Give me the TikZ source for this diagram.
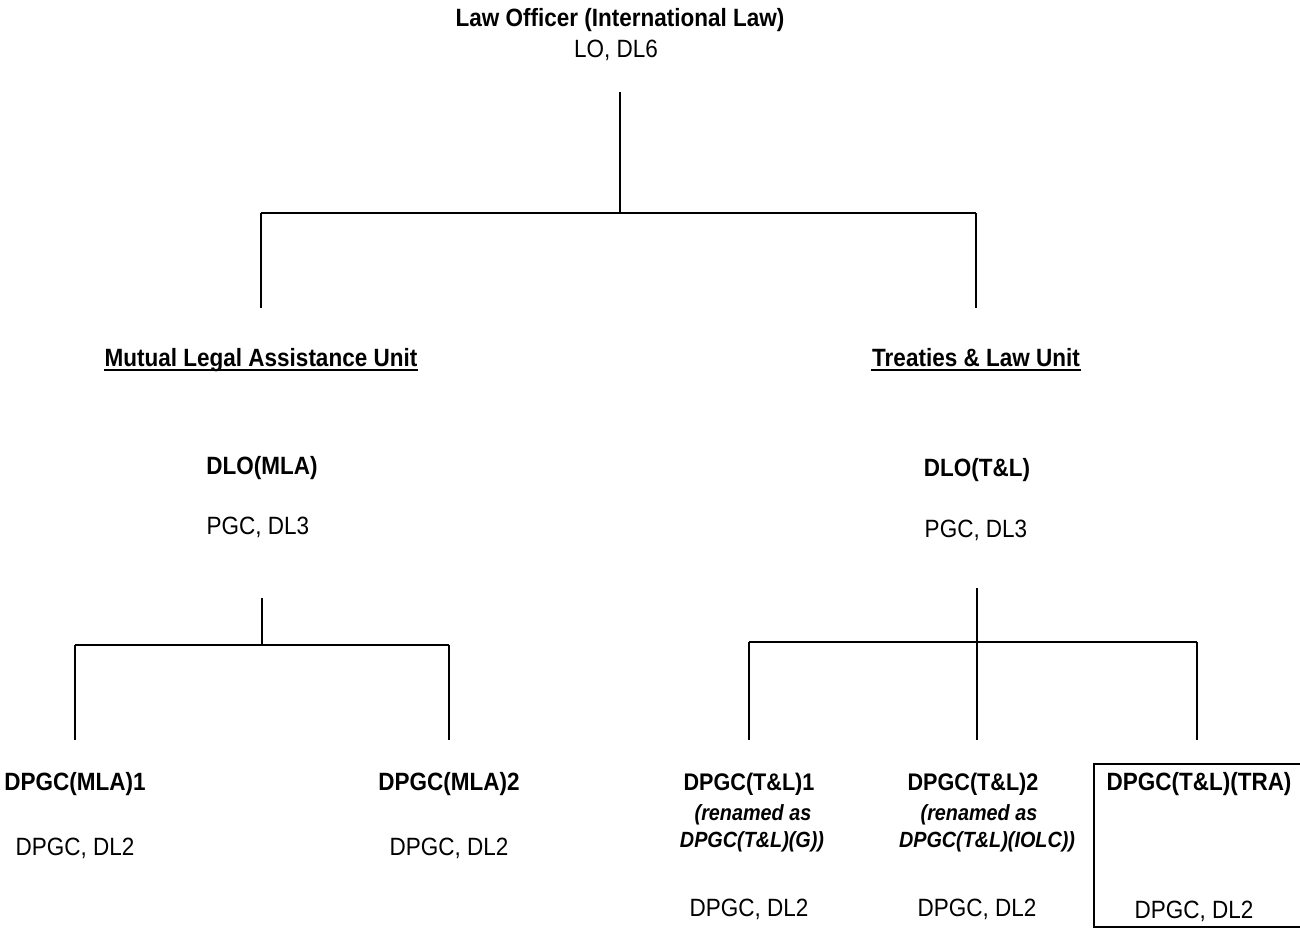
\documentclass[tikz,border=0pt]{standalone}
\usepackage{fontspec}
\setmainfont{Liberation Sans}[FakeStretch=0.9]
\usetikzlibrary{positioning}
\tikzstyle{post}=[font=\fontsize{25}{30}\selectfont\bfseries]
\tikzstyle{subpost}=[font=\fontsize{24}{29}\selectfont\bfseries]
\tikzstyle{grade}=[font=\fontsize{25}{30}\selectfont]
\tikzstyle{note}=[font=\fontsize{22}{26}\selectfont\bfseries\itshape]
\newcommand{\newPost}[4]{\node[#3](#1) at #4 {#2};}
\newcommand{\underLine}[1]{\draw ([yshift=-4pt]#1.base west) -- ([yshift=-4pt]#1.base east);}

\begin{document}
\begin{tikzpicture}[x=1pt,y=-1pt,
      every node/.style={anchor=base,inner sep=0pt},
      line width=1.6pt  %line width of all rules
      ]
      \useasboundingbox (0,0) rectangle (1300,929);
      % head
      \newPost{lo}{Law Officer (International Law)}{post}{(620,26)}
      \newPost{lo-g}{LO, DL6}{grade}{(616,57)}
      % units
      \newPost{mla}{Mutual Legal Assistance Unit}{post}{(261,366)}
      \newPost{tl}{Treaties \& Law Unit}{post}{(976,366)}
      \underLine{mla}
      \underLine{tl}
      \newPost{dlo-mla}{DLO(MLA)}{post}{(262,474)}
      \newPost{dlo-mla-g}{PGC, DL3}{grade}{(258,534)}
      \newPost{dlo-tl}{DLO(T\&L)}{post}{(977,476)}
      \newPost{dlo-tl-g}{PGC, DL3}{grade}{(976,537)}
      % MLA posts
      \newPost{mla1}{DPGC(MLA)1}{post}{(75,790)}
      \newPost{mla1-g}{DPGC, DL2}{grade}{(75,855)}
      \newPost{mla2}{DPGC(MLA)2}{post}{(449,790)}
      \newPost{mla2-g}{DPGC, DL2}{grade}{(449,855)}
      % T&L posts
      \newPost{tl1}{DPGC(T\&L)1}{subpost}{(749,790)}
      \newPost{tl1-n}{(renamed as}{note}{(753,820)}
      \newPost{tl1-nn}{DPGC(T\&L)(G))}{note}{(752,847)}
      \newPost{tl1-g}{DPGC, DL2}{grade}{(749,916)}
      \newPost{tl2}{DPGC(T\&L)2}{subpost}{(973,790)}
      \newPost{tl2-n}{(renamed as}{note}{(979,820)}
      \newPost{tl2-nn}{DPGC(T\&L)(IOLC))}{note}{(987,847)}
      \newPost{tl2-g}{DPGC, DL2}{grade}{(977,916)}
      \newPost{tra}{DPGC(T\&L)(TRA)}{post}{(1199,790)}
      \newPost{tra-g}{DPGC, DL2}{grade}{(1194,918)}
      \draw (1303,764) -| (1094,927) -- (1303,927);
      % junctions
      \coordinate (j0) at (620,213);
      \coordinate (j1) at (262,645);
      \coordinate (j2) at (977,642);
      % lines
      \draw ([yshift=-35pt]lo-g.base -| j0) -- (j0);
      \draw (mla.base |- j0) -- (tl.base |- j0);
      \draw (mla.base |- j0) -- ([yshift=58pt]mla.base);
      \draw (tl.base |- j0) -- ([yshift=58pt]tl.base);
      \draw ([yshift=-64pt]dlo-mla-g.base -| j1) -- (j1);
      \draw (mla1.base |- j1) -- (mla2.base |- j1);
      \draw (mla1.base |- j1) -- ([yshift=50pt]mla1.base);
      \draw (mla2.base |- j1) -- ([yshift=50pt]mla2.base);
      \draw ([yshift=-51pt]dlo-tl-g.base -| j2) -- ([yshift=50pt]tl2.base -| j2);
      \draw (tl1.base |- j2) -- (1197,642);
      \draw (tl1.base |- j2) -- ([yshift=50pt]tl1.base);
      \draw (1197,642) -- (1197,740);
\end{tikzpicture}
\end{document}
